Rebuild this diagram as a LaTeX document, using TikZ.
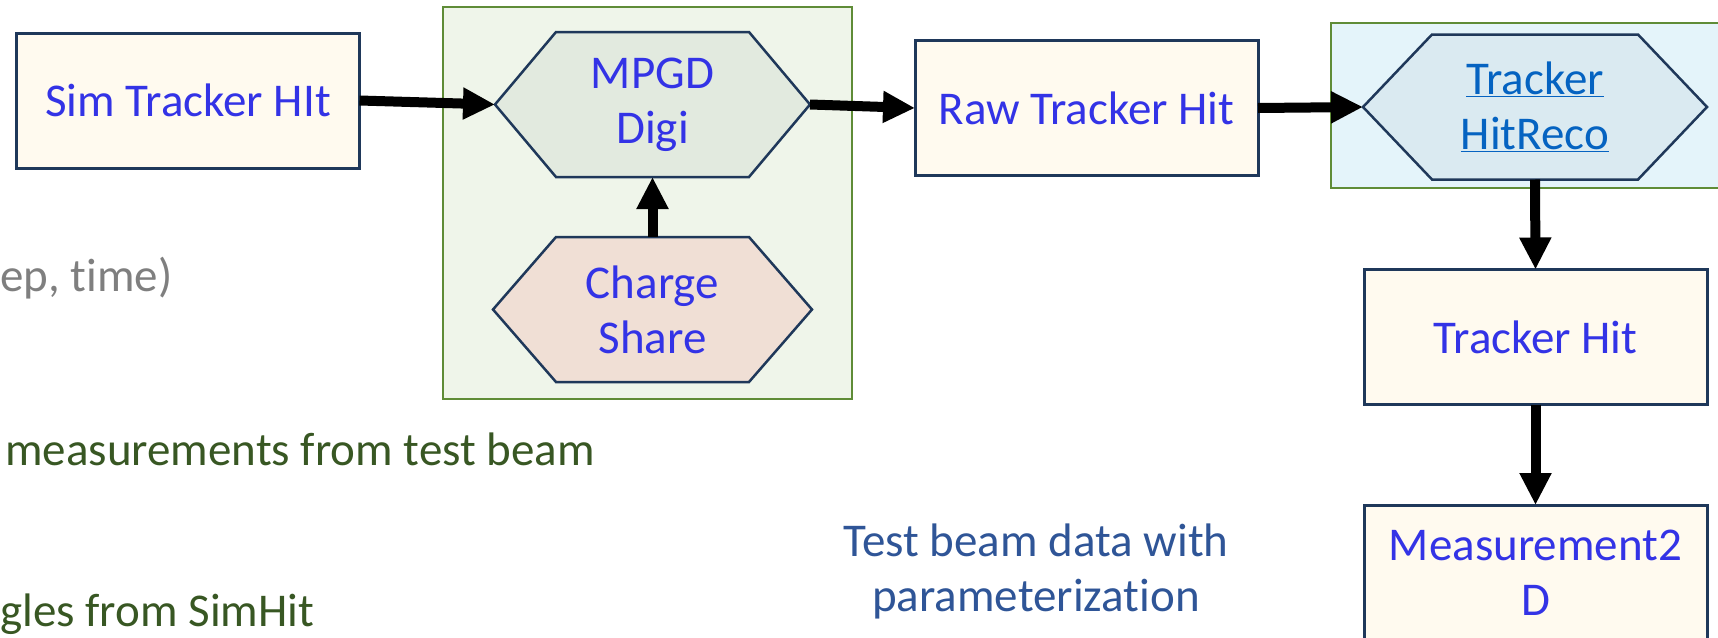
\documentclass[tikz,border=0pt]{standalone}
\usepackage{fontspec}
\setmainfont{Carlito}[Ligatures=NoCommon]
\usetikzlibrary{arrows.meta,backgrounds}

\definecolor{boxblue}{RGB}{51,51,230}
\definecolor{linkblue}{RGB}{5,99,193}
\definecolor{boxline}{RGB}{31,56,90}
\definecolor{boxfill}{RGB}{255,250,239}
\definecolor{grpline}{RGB}{95,140,55}
\definecolor{grpgreen}{RGB}{239,245,234}
\definecolor{grpblue}{RGB}{228,244,250}
\definecolor{digifill}{RGB}{226,234,223}
\definecolor{chargefill}{RGB}{240,223,213}
\definecolor{recofill}{RGB}{218,234,241}
\definecolor{notegray}{RGB}{127,127,127}
\definecolor{notegreen}{RGB}{56,87,35}
\definecolor{beamblue}{RGB}{47,85,151}

% hexagon round a text node: node name, slant of the pointed sides, fill
\newcommand{\hexshape}[3]{%
  \draw[hexline,fill=#3] ([xshift=-#2]#1.west) -- (#1.north west) -- (#1.north east)
    -- ([xshift=#2]#1.east) -- (#1.south east) -- (#1.south west) -- cycle;}

\tikzset{
  databox/.style={draw=boxline,line width=3pt,fill=boxfill,text=boxblue,
    minimum width=343pt,minimum height=135pt,align=center,inner sep=0pt,outer sep=0pt},
  hexnode/.style={text=boxblue,align=center,inner sep=0pt,outer sep=0pt,minimum height=145pt},
  hexline/.style={draw=boxline,line width=2.5pt},
  group/.style={draw=grpline,line width=2.5pt,inner sep=0pt,outer sep=0pt},
  flow/.style={line width=10pt,-{Triangle[length=32pt,width=30pt]}},
  note/.style={anchor=base west,inner sep=0pt}
}

\begin{document}
\begin{tikzpicture}[x=1pt,y=-1pt,font=\fontsize{47}{55}\selectfont]
	\useasboundingbox (0,0) rectangle (1718,637);
	% data objects
	\node[databox] (simhit) at (188,100.5) {Sim Tracker HIt};
	\node[databox] (rawhit) at (1086.5,108) {Raw Tracker Hit};
	\node[databox] (trkhit) at (1535.5,337) {Tracker Hit};
	\node[databox] (meas) at (1535.5,572.5) {Measurement2\\D};
	% algorithms
	\node[hexnode,minimum width=193pt] (digi) at (652.5,104.5) {MPGD\\Digi};
	\node[hexnode,minimum width=193pt] (share) at (652.5,309.5) {Charge\\Share};
	\node[hexnode,minimum width=206pt,text=linkblue] (reco) at (1535,107) {\underline{Tracker}\\\underline{HitReco}};
	\coordinate (digi-in) at ([xshift=-61pt]digi.west);
	\coordinate (digi-out) at ([xshift=61pt]digi.east);
	\coordinate (reco-in) at ([xshift=-69pt]reco.west);
	\begin{scope}[on background layer]
		\node[group,fill=grpgreen,minimum width=409pt,minimum height=392pt] (digigrp) at (647.5,203) {};
		\node[group,fill=grpblue,minimum width=429pt,minimum height=165pt] (recogrp) at (1545.5,105.5) {};
		\hexshape{digi}{61pt}{digifill}
		\hexshape{share}{63pt}{chargefill}
		\hexshape{reco}{69pt}{recofill}
	\end{scope}
	% flow
	\draw[flow] (simhit.east) -- (digi-in);
	\draw[flow] (share.north) -- (digi.south);
	\draw[flow] (digi-out) -- (rawhit.west);
	\draw[flow] (rawhit.east) -- (reco-in);
	\draw[flow] (reco.south) -- (trkhit.north);
	\draw[flow] (trkhit.south) -- (meas.north);
	% side notes
	\node[note,text=notegray] (steptime) at (0,291) {ep, time)};
	\node[note,text=notegreen] (tbmeas) at (5,465) {measurements from test beam};
	\node[note,text=notegreen] (simangles) at (0,626) {gles from SimHit};
	\node[text=beamblue,align=center,inner sep=0pt] (tbdata) at (1036,571.5) {Test beam data with\\parameterization};
\end{tikzpicture}
\end{document}
